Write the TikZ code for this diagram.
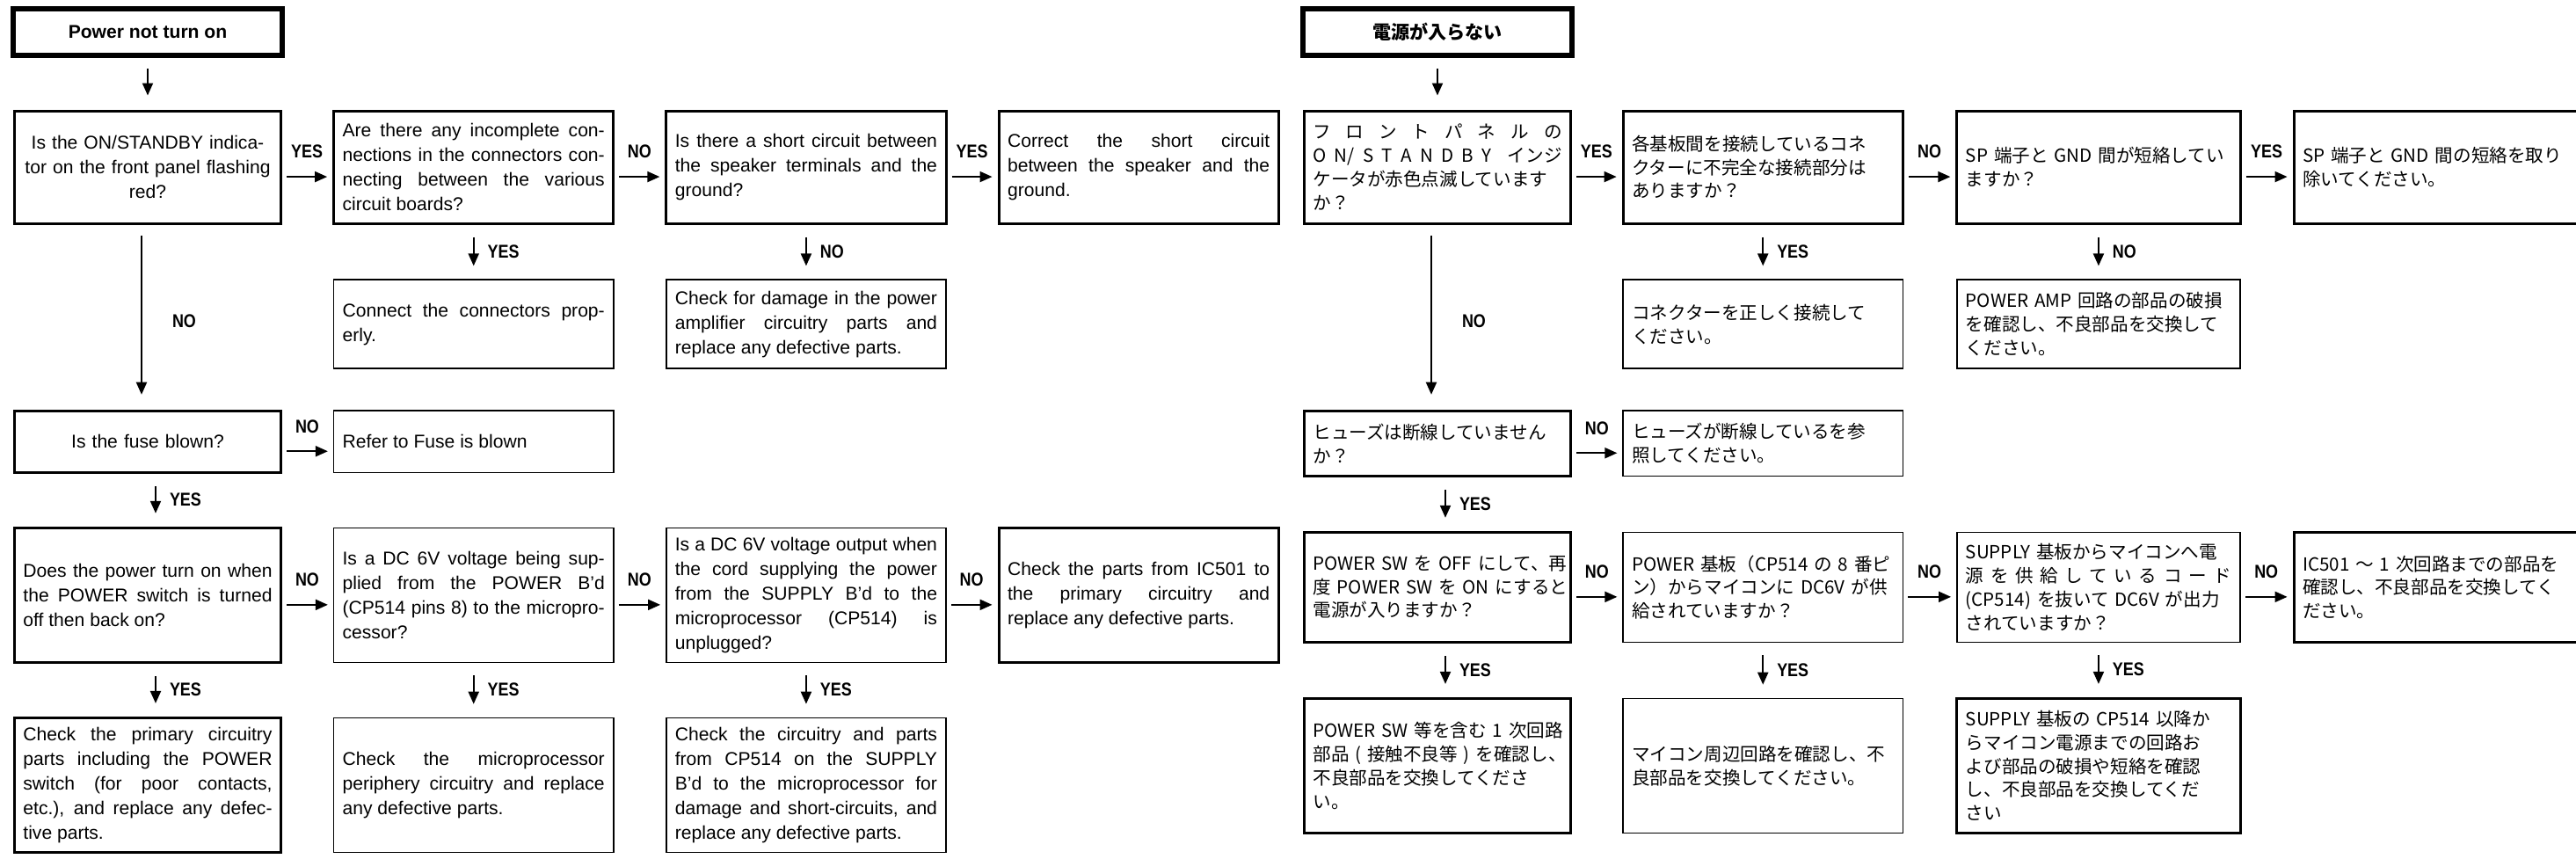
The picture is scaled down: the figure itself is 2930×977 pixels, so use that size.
\documentclass[tikz,border=0pt]{standalone}
\usepackage{fontspec}
\setmainfont{Liberation Sans}
\newfontfamily\jpfont[WordSpace=0.65]{Noto Sans CJK JP}
\newfontfamily\tagfont[FakeStretch=0.85]{Liberation Sans}
\usetikzlibrary{positioning,arrows.meta}

\newcommand\bodyfont{\fontsize{6pt}{8pt}\selectfont\tolerance=10000\pretolerance=10000\hyphenpenalty=10000}
\newcommand\jpbody{\jpfont\fontsize{5.85pt}{7.6pt}\selectfont}

\begin{document}
\begin{tikzpicture}[x=0.01cm, y=-0.01cm, >={Triangle[length=0.14cm,width=0.12cm]},
    box/.style={rectangle, draw, line width=0.015cm, inner xsep=0.1cm, inner ysep=0.05cm, text width=2.98cm, align=justify, font=\bodyfont},
    heavy/.style={box, line width=0.03cm},
    jbox/.style={box, align=left, font=\jpbody},
    jheavy/.style={jbox, line width=0.03cm},
    head/.style={rectangle, draw, line width=0.06cm, minimum width=3.06cm, minimum height=0.53cm, font=\bfseries\fontsize{6pt}{7pt}\selectfont},
    link/.style={->, line width=0.02cm},
    tag/.style={inner sep=0pt, font=\tagfont\bfseries\fontsize{6pt}{6pt}\selectfont}]

    \useasboundingbox (0,0) rectangle (2930,977);

    % English chart
    \node[head] (T) at (168,36.5) {Power not turn on};
    \node[heavy, text width=2.83cm, align=center, minimum height=1.28cm, below of=T, node distance=1.535cm] (Q1) {Is the ON/STANDBY indica-\\tor on the front panel flashing\\red?};
    \node[heavy, minimum height=1.28cm, right of=Q1, node distance=3.705cm] (Q2) {Are there any incomplete con-\linebreak nections in the connectors con-\linebreak necting between the various\linebreak circuit boards?};
    \node[heavy, minimum height=1.28cm, right of=Q2, node distance=3.78cm] (Q3) {Is there a short circuit between\linebreak the speaker terminals and the\linebreak ground?};
    \node[heavy, minimum height=1.28cm, right of=Q3, node distance=3.78cm] (FIX) {Correct the short circuit\linebreak between the speaker and the\linebreak ground.};
    \node[box, minimum height=1.01cm, below of=Q2, node distance=1.785cm] (CON) {Connect the connectors prop-\linebreak erly.};
    \node[box, minimum height=1.01cm, below of=Q3, node distance=1.785cm] (AMP) {Check for damage in the power\linebreak amplifier circuitry parts and\linebreak replace any defective parts.};
    \node[heavy, text width=2.83cm, align=center, minimum height=0.70cm, below of=Q1, node distance=3.12cm] (FUSE) {Is the fuse blown?};
    \node[box, minimum height=0.70cm, right of=FUSE, node distance=3.705cm] (REF) {Refer to Fuse is blown};
    \node[heavy, text width=2.83cm, minimum height=1.53cm, below of=FUSE, node distance=1.745cm] (SW) {Does the power turn on when\linebreak the POWER switch is turned\linebreak off then back on?};
    \node[box, minimum height=1.53cm, right of=SW, node distance=3.705cm] (DC) {Is a DC 6V voltage being sup-\linebreak plied from the POWER B’d\linebreak (CP514 pins 8) to the micropro-\linebreak cessor?};
    \node[box, minimum height=1.53cm, right of=DC, node distance=3.78cm] (SUP) {Is a DC 6V voltage output when\linebreak the cord supplying the power\linebreak from the SUPPLY B’d to the\linebreak microprocessor (CP514) is\linebreak unplugged?};
    \node[heavy, minimum height=1.53cm, right of=SUP, node distance=3.78cm] (IC) {Check the parts from IC501 to\linebreak the primary circuitry and\linebreak replace any defective parts.};
    \node[heavy, text width=2.83cm, minimum height=1.53cm, below of=SW, node distance=2.16cm] (PRI) {Check the primary circuitry\linebreak parts including the POWER\linebreak switch (for poor contacts,\linebreak etc.), and replace any defec-\linebreak tive parts.};
    \node[box, minimum height=1.53cm, below of=DC, node distance=2.16cm] (MPU) {Check the microprocessor\linebreak periphery circuitry and replace\linebreak any defective parts.};
    \node[box, minimum height=1.53cm, below of=SUP, node distance=2.16cm] (CORD) {Check the circuitry and parts\linebreak from CP514 on the SUPPLY\linebreak B’d to the microprocessor for\linebreak damage and short-circuits, and\linebreak replace any defective parts.};

    \draw[link] ([shift={(0,12)}]T.south) -- ([shift={(0,-16)}]Q1.north);
    \draw[link] ([shift={(5,11)}]Q1.east) -- node[tag, above=0.2cm] {YES} ([shift={(-6,11)}]Q2.west);
    \draw[link] ([shift={(5,11)}]Q2.east) -- node[tag, above=0.2cm] {NO} ([shift={(-6,11)}]Q3.west);
    \draw[link] ([shift={(5,11)}]Q3.east) -- node[tag, above=0.2cm] {YES} ([shift={(-6,11)}]FIX.west);
    \draw[link] ([shift={(0,14)}]Q2.south) -- node[tag, right=0.15cm] {YES} ([shift={(0,-15)}]CON.north);
    \draw[link] ([shift={(0,14)}]Q3.south) -- node[tag, right=0.15cm] {NO} ([shift={(0,-15)}]AMP.north);
    \draw[link] ([shift={(-7,12)}]Q1.south) -- node[tag, pos=0.54, right=0.34cm] {NO} ([shift={(-7,-17)}]FUSE.north);
    \draw[link] ([shift={(5,11)}]FUSE.east) -- node[tag, above=0.2cm] {NO} ([shift={(-6,11)}]REF.west);
    \draw[link] ([shift={(9,14)}]FUSE.south) -- node[tag, right=0.15cm] {YES} ([shift={(9,-15)}]SW.north);
    \draw[link] ([shift={(5,11)}]SW.east) -- node[tag, above=0.2cm] {NO} ([shift={(-6,11)}]DC.west);
    \draw[link] ([shift={(5,11)}]DC.east) -- node[tag, above=0.2cm] {NO} ([shift={(-6,11)}]SUP.west);
    \draw[link] ([shift={(5,11)}]SUP.east) -- node[tag, above=0.2cm] {NO} ([shift={(-6,11)}]IC.west);
    \draw[link] ([shift={(9,14)}]SW.south) -- node[tag, right=0.15cm] {YES} ([shift={(9,-15)}]PRI.north);
    \draw[link] ([shift={(0,14)}]DC.south) -- node[tag, right=0.15cm] {YES} ([shift={(0,-15)}]MPU.north);
    \draw[link] ([shift={(0,14)}]SUP.south) -- node[tag, right=0.15cm] {YES} ([shift={(0,-15)}]CORD.north);

    % Japanese chart
    \node[head, font=\jpfont\bfseries\fontsize{6pt}{7pt}\selectfont] (JT) at (1635,36.5) {電源が入らない};
    \node[jheavy, text width=2.83cm, minimum height=1.28cm, below of=JT, node distance=1.535cm] (JQ1) {フ\hfill ロ\hfill ン\hfill ト\hfill パ\hfill ネ\hfill ル\hfill の\\O\hfill N/\hfill S\hfill T\hfill A\hfill N\hfill D\hfill B\hfill Y\hfill\hfill インジ\\ケータが赤色点滅しています\\か？};
    \node[jheavy, minimum height=1.28cm, right of=JQ1, node distance=3.70cm] (JQ2) {各基板間を接続しているコネ\\クターに不完全な接続部分は\\ありますか？};
    \node[jheavy, text width=3.02cm, minimum height=1.28cm, right of=JQ2, node distance=3.815cm] (JQ3) {SP~端子と~GND~間が短絡してい\\ますか？};
    \node[jheavy, text width=3.02cm, minimum height=1.28cm, right of=JQ3, node distance=3.83cm] (JFIX) {SP~端子と~GND~間の短絡を取り\\除いてください。};
    \node[jbox, minimum height=1.01cm, below of=JQ2, node distance=1.785cm] (JCON) {コネクターを正しく接続して\\ください。};
    \node[jbox, text width=3.02cm, minimum height=1.01cm, below of=JQ3, node distance=1.785cm] (JAMP) {POWER~AMP~回路の部品の破損\\を確認し、不良部品を交換して\\ください。};
    \node[jheavy, text width=2.83cm, minimum height=0.74cm, below of=JQ1, node distance=3.14cm] (JFUSE) {ヒューズは断線していません\\か？};
    \node[jbox, minimum height=0.74cm, right of=JFUSE, node distance=3.70cm] (JREF) {ヒューズが断線しているを参\\照してください。};
    \node[jheavy, text width=2.83cm, minimum height=1.25cm, below of=JFUSE, node distance=1.635cm] (JSW) {POWER~SW~を~OFF~にして、再\\度~POWER~SW~を~ON~にすると\\電源が入りますか？};
    \node[jbox, minimum height=1.25cm, right of=JSW, node distance=3.70cm] (JDC) {POWER~基板（CP514~の~8~番ピ\\ン）からマイコンに~DC6V~が供\\給されていますか？};
    \node[jbox, text width=3.02cm, minimum height=1.25cm, right of=JDC, node distance=3.815cm] (JSUP) {SUPPLY~基板からマイコンへ電\\源\hfill を\hfill 供\hfill 給\hfill し\hfill て\hfill い\hfill る\hfill コ\hfill ー\hfill ド\\(CP514)~を抜いて~DC6V~が出力\\されていますか？};
    \node[jheavy, text width=3.02cm, minimum height=1.25cm, right of=JSUP, node distance=3.83cm] (JIC) {IC501~～~1~次回路までの部品を\\確認し、不良部品を交換してく\\ださい。};
    \node[jheavy, text width=2.83cm, minimum height=1.53cm, below of=JSW, node distance=2.03cm] (JPRI) {POWER~SW~等を含む~1~次回路\\部品~(~接触不良等~)~を確認し、\\不良部品を交換してくださ\\い。};
    \node[jbox, minimum height=1.53cm, below of=JDC, node distance=2.03cm] (JMPU) {マイコン周辺回路を確認し、不\\良部品を交換してください。};
    \node[jheavy, text width=3.02cm, minimum height=1.53cm, below of=JSUP, node distance=2.03cm] (JCORD) {SUPPLY~基板の~CP514~以降か\\らマイコン電源までの回路お\\よび部品の破損や短絡を確認\\し、不良部品を交換してくだ\\さい};

    \draw[link] ([shift={(0,12)}]JT.south) -- ([shift={(0,-16)}]JQ1.north);
    \draw[link] ([shift={(5,11)}]JQ1.east) -- node[tag, above=0.2cm] {YES} ([shift={(-6,11)}]JQ2.west);
    \draw[link] ([shift={(5,11)}]JQ2.east) -- node[tag, above=0.2cm] {NO} ([shift={(-6,11)}]JQ3.west);
    \draw[link] ([shift={(5,11)}]JQ3.east) -- node[tag, above=0.2cm] {YES} ([shift={(-6,11)}]JFIX.west);
    \draw[link] ([shift={(0,14)}]JQ2.south) -- node[tag, right=0.15cm] {YES} ([shift={(0,-15)}]JCON.north);
    \draw[link] ([shift={(0,14)}]JQ3.south) -- node[tag, right=0.15cm] {NO} ([shift={(0,-15)}]JAMP.north);
    \draw[link] ([shift={(-7,12)}]JQ1.south) -- node[tag, pos=0.54, right=0.34cm] {NO} ([shift={(-7,-17)}]JFUSE.north);
    \draw[link] ([shift={(5,11)}]JFUSE.east) -- node[tag, above=0.2cm] {NO} ([shift={(-6,11)}]JREF.west);
    \draw[link] ([shift={(9,14)}]JFUSE.south) -- node[tag, right=0.15cm] {YES} ([shift={(9,-15)}]JSW.north);
    \draw[link] ([shift={(5,11)}]JSW.east) -- node[tag, above=0.2cm] {NO} ([shift={(-6,11)}]JDC.west);
    \draw[link] ([shift={(5,11)}]JDC.east) -- node[tag, above=0.2cm] {NO} ([shift={(-6,11)}]JSUP.west);
    \draw[link] ([shift={(5,11)}]JSUP.east) -- node[tag, above=0.2cm] {NO} ([shift={(-6,11)}]JIC.west);
    \draw[link] ([shift={(9,14)}]JSW.south) -- node[tag, right=0.15cm] {YES} ([shift={(9,-15)}]JPRI.north);
    \draw[link] ([shift={(0,14)}]JDC.south) -- node[tag, right=0.15cm] {YES} ([shift={(0,-15)}]JMPU.north);
    \draw[link] ([shift={(0,14)}]JSUP.south) -- node[tag, right=0.15cm] {YES} ([shift={(0,-15)}]JCORD.north);
\end{tikzpicture}
\end{document}
